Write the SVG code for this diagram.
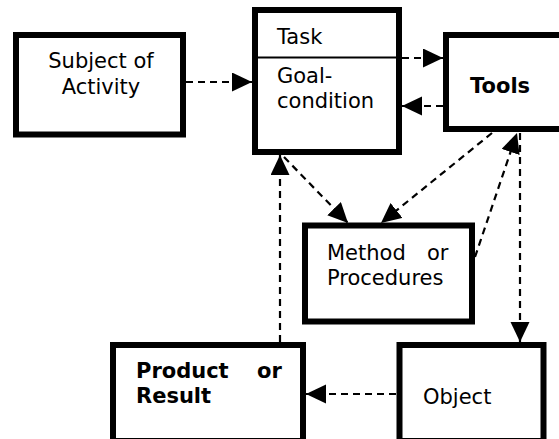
<svg xmlns="http://www.w3.org/2000/svg" width="559" height="439" viewBox="0 0 559 439">
  <defs>
    <marker id="arrow" markerUnits="userSpaceOnUse" markerWidth="22" markerHeight="22" refX="20" refY="9.5" orient="auto">
      <path d="M0,0 L20,9.5 L0,19 Z" fill="#000"/>
    </marker>
  </defs>
  <style>
    .box { fill: #fff; stroke: #000; stroke-width: 6; }
    .thin { stroke: #000; stroke-width: 2; }
    .lbl { font-family: "DejaVu Sans", Verdana, sans-serif; font-size: 21px; fill: #000; }
    .bold { font-weight: bold; }
    .conn { stroke: #000; stroke-width: 2.2; stroke-dasharray: 7 5; fill: none; marker-end: url(#arrow); }
  </style>
  <rect width="559" height="439" fill="#fff"/>

  <g id="subject">
    <rect class="box" x="16" y="35" width="167" height="99.5"/>
    <text class="lbl" x="101" y="68" text-anchor="middle">Subject of</text>
    <text class="lbl" x="101" y="93.5" text-anchor="middle">Activity</text>
  </g>

  <g id="task">
    <rect class="box" x="255" y="10" width="144" height="142"/>
    <line class="thin" x1="255" y1="57.5" x2="399" y2="57.5"/>
    <text class="lbl" x="277" y="44">Task</text>
    <text class="lbl" x="277" y="83">Goal-</text>
    <text class="lbl" x="277" y="108">condition</text>
  </g>

  <g id="tools">
    <rect class="box" x="446" y="35" width="130" height="94"/>
    <text class="lbl bold" x="470" y="93">Tools</text>
  </g>

  <g id="method">
    <rect class="box" x="305" y="225.5" width="167" height="96"/>
    <text class="lbl" x="327" y="260">Method</text>
    <text class="lbl" x="427" y="260">or</text>
    <text class="lbl" x="327" y="285">Procedures</text>
  </g>

  <g id="product">
    <rect class="box" x="113" y="345" width="190" height="96"/>
    <text class="lbl bold" x="136" y="378">Product</text>
    <text class="lbl bold" x="257" y="378">or</text>
    <text class="lbl bold" x="136" y="403">Result</text>
  </g>

  <g id="object">
    <rect class="box" x="399.5" y="345" width="144" height="96"/>
    <text class="lbl" x="423" y="404">Object</text>
  </g>

  <g id="connectors">
    <line class="conn" x1="186" y1="82" x2="252" y2="82"/>
    <line class="conn" x1="402" y1="58" x2="443" y2="58"/>
    <line class="conn" x1="443" y1="106" x2="402" y2="106"/>
    <line class="conn" x1="284" y1="157" x2="348" y2="223"/>
    <line class="conn" x1="492" y1="133" x2="381" y2="223"/>
    <line class="conn" x1="475" y1="257" x2="517" y2="133"/>
    <line class="conn" x1="520" y1="133" x2="520" y2="342"/>
    <line class="conn" x1="396" y1="394" x2="306" y2="394"/>
    <line class="conn" x1="280" y1="342" x2="280" y2="155"/>
  </g>
</svg>
